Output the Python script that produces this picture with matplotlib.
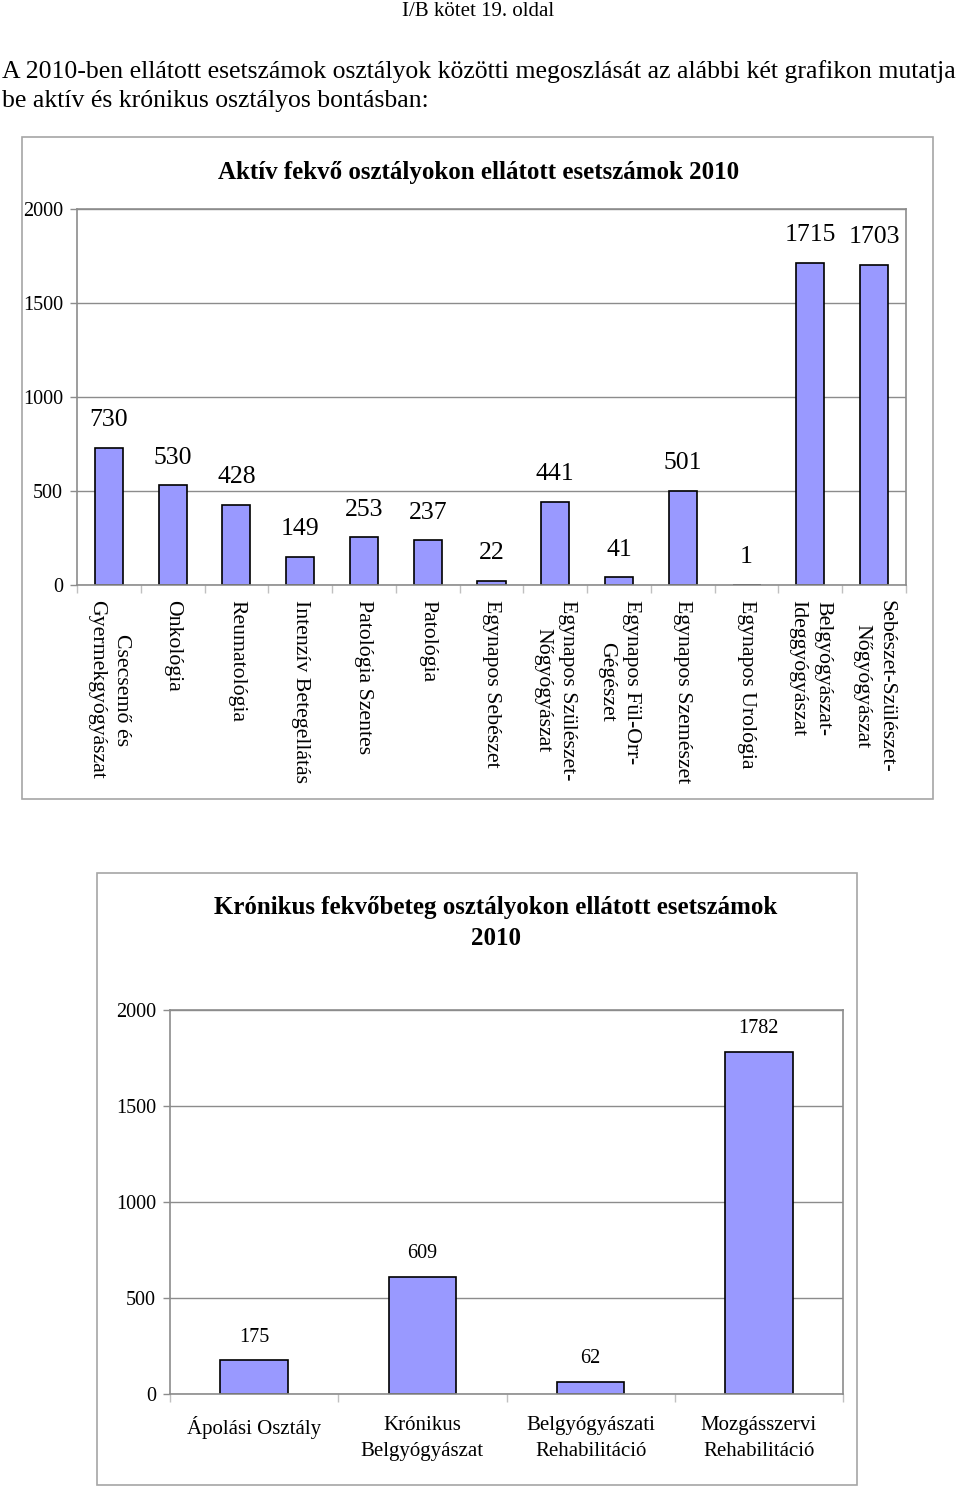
import matplotlib
matplotlib.use("Agg")
import matplotlib.pyplot as plt
from matplotlib.patches import Rectangle
from matplotlib.ticker import FixedLocator

plt.rcParams["font.family"] = ["Liberation Serif", "DejaVu Serif"]

# --- data ---
aktiv_labels = [
    "Csecsemő és\nGyermekgyógyászat",
    "Onkológia",
    "Reumatológia",
    "Intenzív Betegellátás",
    "Patológia Szentes",
    "Patológia",
    "Egynapos Sebészet",
    "Egynapos Szülészet-\nNőgyógyászat",
    "Egynapos Fül-Orr-\nGégészet",
    "Egynapos Szemészet",
    "Egynapos Urológia",
    "Belgyógyászat-\nIdeggyógyászat",
    "Sebészet-Szülészet-\nNőgyógyászat",
]
aktiv_values = [730, 530, 428, 149, 253, 237, 22, 441, 41, 501, 1, 1715, 1703]

kronikus_labels = [
    "Ápolási Osztály",
    "Krónikus\nBelgyógyászat",
    "Belgyógyászati\nRehabilitáció",
    "Mozgásszervi\nRehabilitáció",
]
kronikus_values = [175, 609, 62, 1782]

y_ticks = [0, 500, 1000, 1500, 2000]

BAR_COLOR = "#9999ff"
GRID_COLOR = "#8c8c8c"
FRAME_COLOR = "#a6a6a6"


def style_axes(ax, n, ytick_size):
    ax.set_xlim(-0.5, n - 0.5)
    ax.set_ylim(0, 2000)
    ax.set_yticks(y_ticks)
    ax.set_yticklabels([str(t) for t in y_ticks], fontsize=ytick_size)
    ax.yaxis.grid(True, color=GRID_COLOR, linewidth=1.0)
    ax.set_axisbelow(True)
    for side in ["top", "right", "left", "bottom"]:
        ax.spines[side].set_color(GRID_COLOR)
        ax.spines[side].set_linewidth(1.2)
    ax.tick_params(axis="y", length=5, width=1, color=GRID_COLOR, pad=5)
    ax.xaxis.set_minor_locator(FixedLocator([i - 0.5 for i in range(n + 1)]))
    ax.tick_params(axis="x", which="minor", length=6, width=1, color="#c0c0c0")
    ax.tick_params(axis="x", which="major", length=0)


fig = plt.figure(figsize=(9.6, 14.87), dpi=100)

fig.text(0.498, 1 - 11 / 1487, "I/B kötet 19. oldal", ha="center", va="center", fontsize=15)
fig.text(0.002, 1 - 72 / 1487,
         "A 2010-ben ellátott esetszámok osztályok közötti megoszlását az alábbi két grafikon mutatja",
         ha="left", va="center", fontsize=18.5)
fig.text(0.002, 1 - 101 / 1487, "be aktív és krónikus osztályos bontásban:",
         ha="left", va="center", fontsize=18.5)

# frames around the two charts
fig.patches.append(Rectangle((22 / 960, 1 - 799 / 1487), 911 / 960, 662 / 1487,
                             transform=fig.transFigure, fill=False,
                             edgecolor=FRAME_COLOR, linewidth=1.2))
fig.patches.append(Rectangle((97 / 960, 1 - 1485 / 1487), 760 / 960, 612 / 1487,
                             transform=fig.transFigure, fill=False,
                             edgecolor=FRAME_COLOR, linewidth=1.2))

# --- chart 1: aktív ---
ax1 = fig.add_axes([77 / 960, 1 - 585 / 1487, 829 / 960, 376 / 1487])
x1 = list(range(len(aktiv_values)))
ax1.bar(x1, aktiv_values, width=0.44, color=BAR_COLOR, edgecolor="black", linewidth=1.2)
style_axes(ax1, len(aktiv_values), 14.5)
ax1.set_xticks(x1)
ax1.set_xticklabels(aktiv_labels, rotation=270, fontsize=15.7, ha="center", va="top",
                    multialignment="center", linespacing=1.4)
ax1.tick_params(axis="x", which="major", pad=11)
for xi, v in zip(x1, aktiv_values):
    ax1.annotate(str(v), (xi, v), xytext=(0, 12), textcoords="offset points",
                 ha="center", va="bottom", fontsize=18.5)
fig.text(0.498, 1 - 172 / 1487, "Aktív fekvő osztályokon ellátott esetszámok 2010",
         ha="center", va="center", fontsize=18, fontweight="bold")

# --- chart 2: krónikus ---
ax2 = fig.add_axes([170 / 960, 1 - 1394 / 1487, 673 / 960, 384 / 1487])
x2 = list(range(len(kronikus_values)))
ax2.bar(x2, kronikus_values, width=0.4, color=BAR_COLOR, edgecolor="black", linewidth=1.2)
style_axes(ax2, len(kronikus_values), 14.5)
ax2.set_xticks(x2)
ax2.set_xticklabels(kronikus_labels, fontsize=15, ha="center", va="top",
                    multialignment="center", linespacing=1.5)
ax2.tick_params(axis="x", which="major", pad=16)
for xi, v in zip(x2, kronikus_values):
    ax2.annotate(str(v), (xi, v), xytext=(0, 10), textcoords="offset points",
                 ha="center", va="bottom", fontsize=14.5)
fig.text(496 / 960, 1 - 923 / 1487, "Krónikus fekvőbeteg osztályokon ellátott esetszámok\n2010",
         ha="center", va="center", fontsize=18, fontweight="bold", linespacing=1.4)

fig.savefig("out.png", dpi=100)
